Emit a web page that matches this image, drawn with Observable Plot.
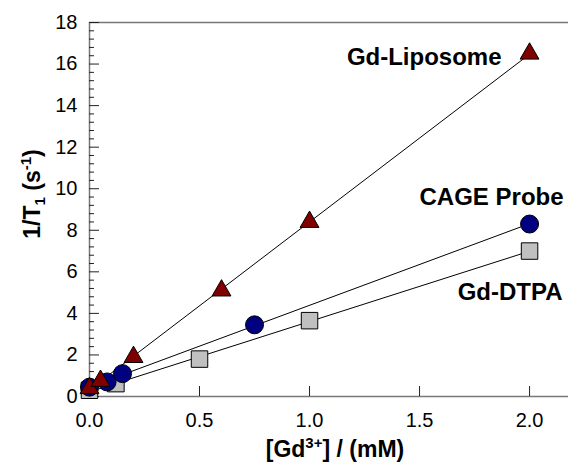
<!DOCTYPE html>
<html><head><meta charset="utf-8">
<script src="https://cdn.jsdelivr.net/npm/d3@7"></script>
<script src="https://cdn.jsdelivr.net/npm/@observablehq/plot@0.6"></script>
<style>body{margin:0;background:#fff} #chart{width:568px;height:468px}</style>
</head><body><div id="chart"></div>
<script>
// Data
const liposomeX = [0, 0.05, 0.2, 0.6, 1.0, 2.0];
const liposomeY = [0.4, 0.75, 1.9, 5.1, 8.4, 16.5];
const cageX = [0, 0.08, 0.15, 0.75, 2.0];
const cageY = [0.45, 0.7, 1.1, 3.45, 8.3];
const dtpaX = [0, 0.12, 0.5, 1.0, 2.0];
const dtpaY = [0.3, 0.62, 1.8, 3.65, 7.0];
const seriesNames = ["Gd-Liposome", "CAGE Probe", "Gd-DTPA"];
const xTicks = [0, 0.5, 1.0, 1.5, 2.0];
const yTicks = [0, 2, 4, 6, 8, 10, 12, 14, 16, 18];

const toRows = (xs, ys) => xs.map((x, i) => ({x, y: ys[i]}));
const lip = toRows(liposomeX, liposomeY);
const cage = toRows(cageX, cageY);
const dtpa = toRows(dtpaX, dtpaY);
const yMinor = d3.range(0, 18.001, 0.4).filter(v => Math.abs(v / 2 - Math.round(v / 2)) > 1e-6);

const FONT = "Arial, 'Liberation Sans', sans-serif";
const plot = Plot.plot({
  width: 568, height: 468,
  marginLeft: 89, marginRight: 0, marginTop: 22, marginBottom: 72,
  style: {fontFamily: FONT, fontSize: "20px", background: "white", color: "black", overflow: "visible"},
  x: {domain: [0, 2.177]},
  y: {domain: [0, 18]},
  marks: [
    Plot.axisX(xTicks, {tickSize: 0, tickPadding: 16, fontSize: 20, tickFormat: d3.format(".1f"), label: null}),
    Plot.axisY(yTicks, {tickSize: 0, tickPadding: 12, fontSize: 20, label: null}),
    // frame lines
    Plot.ruleY([0, 18], {stroke: "#777", strokeWidth: 1.5}),
    Plot.ruleX([0], {stroke: "#777", strokeWidth: 1.5}),
    // inward ticks
    Plot.ruleY(yTicks, {x1: 0, x2: 0, insetRight: -10, stroke: "#222"}),
    Plot.ruleY(yMinor, {x1: 0, x2: 0, insetRight: -5, stroke: "#222"}),
    Plot.ruleX(xTicks, {y1: 0, y2: 0, insetTop: -10, stroke: "#222"}),
    // regression lines
    Plot.linearRegressionY(dtpa, {x: "x", y: "y", ci: 0, stroke: "black", strokeWidth: 1}),
    Plot.linearRegressionY(cage, {x: "x", y: "y", ci: 0, stroke: "black", strokeWidth: 1}),
    Plot.linearRegressionY(lip, {x: "x", y: "y", ci: 0, stroke: "black", strokeWidth: 1}),
    // markers
    Plot.dot(dtpa, {x: "x", y: "y", symbol: "square", r: 9.3, fill: "#c0c0c0", stroke: "black", strokeWidth: 1}),
    Plot.dot(cage, {x: "x", y: "y", symbol: "circle", r: 9, fill: "#000080", stroke: "black", strokeWidth: 1}),
    Plot.dot(lip, {x: "x", y: "y", symbol: "triangle", r: 7, fill: "#800000", stroke: "black", strokeWidth: 1}),
    // series labels next to the last points
    Plot.text([lip[lip.length - 1]], {x: "x", y: "y", text: () => seriesNames[0], textAnchor: "end", dx: -28, dy: 4, fontSize: 24, fontWeight: "bold"}),
    Plot.text([cage[cage.length - 1]], {x: "x", y: "y", text: () => seriesNames[1], textAnchor: "end", dx: 34, dy: -27, fontSize: 24, fontWeight: "bold"}),
    Plot.text([dtpa[dtpa.length - 1]], {x: "x", y: "y", text: () => seriesNames[2], textAnchor: "end", dx: 33, dy: 41, fontSize: 24, fontWeight: "bold"})
  ]
});
document.getElementById("chart").appendChild(plot);

const svg = d3.select(plot);
// x axis title
const xt = svg.append("text").attr("x", 335).attr("y", 457).attr("text-anchor", "middle")
  .attr("font-family", FONT).attr("font-weight", "bold").attr("font-size", 23).attr("fill", "black");
xt.append("tspan").text("[Gd");
xt.append("tspan").attr("dy", -9).attr("font-size", 15).text("3+");
xt.append("tspan").attr("dy", 9).text("] / (mM)");
// y axis title
const yt = svg.append("text").attr("transform", "translate(40,194) rotate(-90)").attr("text-anchor", "middle")
  .attr("font-family", FONT).attr("font-weight", "bold").attr("font-size", 23).attr("fill", "black");
yt.append("tspan").text("1/T");
yt.append("tspan").attr("dy", 5).attr("font-size", 15).text("1");
yt.append("tspan").attr("dy", -5).text(" (s");
yt.append("tspan").attr("dy", -9).attr("font-size", 15).text("-1");
yt.append("tspan").attr("dy", 9).text(")");
</script></body></html>
